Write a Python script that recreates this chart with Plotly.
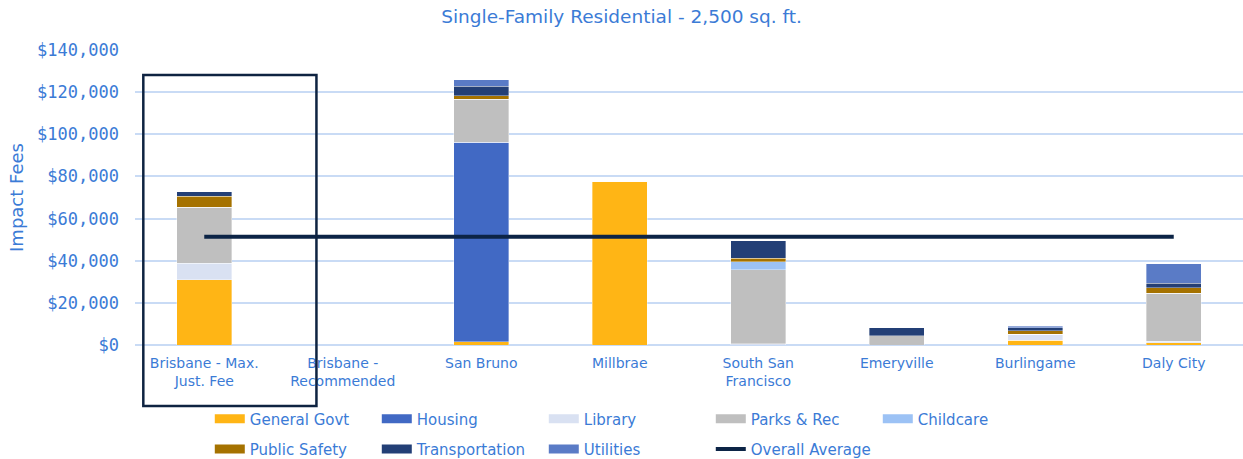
import plotly.graph_objects as go

categories = [
    "Brisbane - Max.<br>Just. Fee",
    "Brisbane -<br>Recommended",
    "San Bruno",
    "Millbrae",
    "South San<br>Francisco",
    "Emeryville",
    "Burlingame",
    "Daly City",
]

general_govt = [31000, 0, 1600, 77800, 0, 0, 2200, 1100]
housing = [0, 0, 94700, 0, 0, 0, 0, 0]
library = [7800, 0, 0, 0, 600, 0, 2900, 800]
parks_rec = [26500, 0, 20300, 0, 35000, 4400, 0, 22600]
childcare = [0, 0, 0, 0, 3800, 0, 0, 0]
public_safety = [5400, 0, 1700, 0, 1700, 0, 1700, 2700]
transportation = [2100, 0, 4600, 0, 8400, 3700, 1400, 2200]
utilities = [0, 0, 3000, 0, 0, 0, 800, 9200]
overall_average = 51400

series = [
    ("General Govt", general_govt, "#FFB515", "legend"),
    ("Housing", housing, "#4169C4", "legend"),
    ("Library", library, "#D9E1F2", "legend"),
    ("Parks & Rec", parks_rec, "#BFBFBF", "legend"),
    ("Childcare", childcare, "#9CC2F5", "legend"),
    ("Public Safety", public_safety, "#A57200", "legend2"),
    ("Transportation", transportation, "#233F76", "legend2"),
    ("Utilities", utilities, "#5A7BC6", "legend2"),
]

BLUE = "#3B7BD6"
NAVY = "#0C2446"
FONT = "DejaVu Sans"

fig = go.Figure()

for name, vals, color, _ in series:
    fig.add_trace(
        go.Bar(
            x=categories,
            y=vals,
            name=name,
            marker=dict(color=color, line=dict(color="rgba(255,255,255,0.6)", width=0.6)),
            showlegend=False,
        )
    )

fig.add_trace(
    go.Scatter(
        x=categories,
        y=[overall_average] * len(categories),
        mode="lines",
        line=dict(color=NAVY, width=4),
        name="Overall Average",
        showlegend=False,
    )
)

# legend proxies — wide rectangles like the original
for name, _, color, leg in series:
    fig.add_trace(
        go.Scatter(
            x=[None], y=[None], mode="lines",
            line=dict(color=color, width=9),
            name=name, legend=leg,
        )
    )
fig.add_trace(
    go.Scatter(
        x=[None], y=[None], mode="lines",
        line=dict(color=NAVY, width=4),
        name="Overall Average", legend="legend2",
    )
)

# highlight box around the first category
fig.add_shape(
    type="rect", xref="x", yref="paper",
    x0=-0.44, x1=0.81, y0=-0.207, y1=0.915,
    line=dict(color="#0E2341", width=2.5),
)

legend_common = dict(
    orientation="h",
    traceorder="normal",
    xanchor="left",
    yanchor="middle",
    x=0.0675,
    font=dict(family=FONT, size=15, color=BLUE),
    entrywidth=122,
    bgcolor="rgba(0,0,0,0)",
)

fig.update_layout(
    width=1243,
    height=459,
    margin=dict(l=135, r=0, t=50, b=114, autoexpand=False),
    plot_bgcolor="white",
    paper_bgcolor="white",
    barmode="stack",
    bargap=0.6,
    title=dict(
        text="Single-Family Residential - 2,500 sq. ft.",
        x=0.5, xref="container", xanchor="center", y=0.965, yanchor="middle",
        font=dict(family=FONT, size=18.5, color=BLUE),
    ),
    legend=dict(y=-0.251, **legend_common),
    legend2=dict(y=-0.353, **legend_common),
    xaxis=dict(
        showgrid=False,
        showline=False,
        ticks="",
        ticklabelstandoff=8,
        tickfont=dict(family=FONT, size=14, color=BLUE),
    ),
    yaxis=dict(
        range=[0, 140000],
        dtick=20000,
        tickprefix="$",
        tickformat=",d",
        showgrid=True,
        gridcolor="#C9DBF5",
        gridwidth=1.5,
        zeroline=True,
        zerolinecolor="#C9DBF5",
        zerolinewidth=1.5,
        ticks="",
        ticklabelstandoff=15,
        tickfont=dict(family="DejaVu Sans Mono", size=17, color=BLUE),
        title=dict(
            text="Impact Fees", standoff=8,
            font=dict(family=FONT, size=18, color=BLUE),
        ),
    ),
)

fig.write_html(
    "out.html",
    config={"displayModeBar": False},
    post_script="document.body.style.margin='0px';",
)
